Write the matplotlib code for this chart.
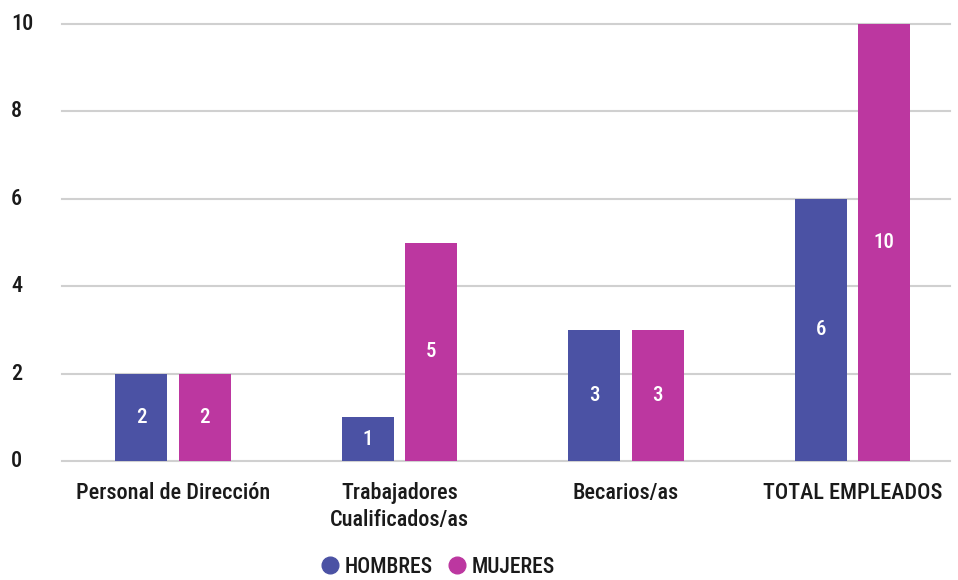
import matplotlib
matplotlib.use("Agg")
import matplotlib.pyplot as plt
import matplotlib.transforms as mtransforms
import numpy as np

plt.rcParams["font.family"] = ["Roboto Condensed", "DejaVu Sans Condensed",
                               "Liberation Sans Narrow", "Roboto"]
plt.rcParams["font.weight"] = "medium"

# Data.
categories = ["Personal de Dirección", "Trabajadores\nCualificados/as",
              "Becarios/as", "TOTAL EMPLEADOS"]
hombres = [2, 1, 3, 6]
mujeres = [2, 5, 3, 10]
series_names = ["HOMBRES", "MUJERES"]
y_ticks = [0, 2, 4, 6, 8, 10]

color_h = "#4B52A4"
color_m = "#BC37A0"
text_color = "#1a1a1a"

fig = plt.figure(figsize=(9.58, 5.80), dpi=100)
ax = fig.add_axes([62 / 958, 1 - 461 / 580, 888 / 958, 437 / 580])

x = np.arange(len(categories))
width = 0.23
offset = 0.14

bars_h = ax.bar(x - offset, hombres, width, color=color_h, label=series_names[0], zorder=3)
bars_m = ax.bar(x + offset, mujeres, width, color=color_m, label=series_names[1], zorder=3)

for bars in (bars_h, bars_m):
    for b in bars:
        h = b.get_height()
        ax.text(b.get_x() + b.get_width() / 2, h / 2, f"{h:g}", ha="center",
                va="center", color="white", fontsize=15, zorder=4)

ax.set_xlim(-0.49, 3.43)
ax.set_ylim(0, 10)
ax.set_yticks(y_ticks)
ax.set_yticklabels([])
ax.set_xticks(x)
ax.set_xticklabels(categories, fontsize=16, color=text_color, linespacing=1.3)
ax.tick_params(axis="both", length=0)
ax.tick_params(axis="x", pad=15)

# Y tick labels, left aligned near the figure edge.
trans = mtransforms.blended_transform_factory(fig.transFigure, ax.transData)
for t in y_ticks:
    ax.text(11 / 958, t, f"{t}", transform=trans, ha="left", va="center",
            fontsize=16, color=text_color, clip_on=False)

ax.grid(axis="y", color="#d0d0d0", linewidth=1.5, zorder=0)
for line in ax.get_ygridlines():
    line.set_clip_on(False)
for s in ax.spines.values():
    s.set_visible(False)

handles = [plt.Line2D([], [], marker="o", linestyle="", markersize=12, color=c)
           for c in (color_h, color_m)]
fig.legend(handles, series_names, loc="center", bbox_to_anchor=(434 / 958, 1 - 567 / 580),
           ncol=2, frameon=False, fontsize=15.5, handletextpad=-0.1, columnspacing=0.3,
           handlelength=1.6, labelcolor=text_color)

fig.savefig("out.png", dpi=100)
